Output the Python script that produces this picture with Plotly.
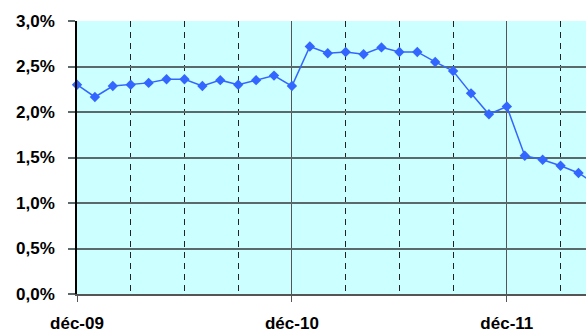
import plotly.graph_objects as go

# Monthly index from déc-09 (0) onward
month_index = list(range(30))
rates = [2.30, 2.165, 2.285, 2.30, 2.32, 2.36, 2.36, 2.285, 2.35, 2.30, 2.35, 2.40,
         2.285, 2.72, 2.645, 2.66, 2.635, 2.71, 2.66, 2.66, 2.55, 2.45, 2.205, 1.975,
         2.06, 1.52, 1.475, 1.41, 1.33, 1.20]
rates_frac = [r / 100 for r in rates]

x_tick_vals = [0, 12, 24]
x_tick_text = ["déc-09", "déc-10", "déc-11"]
y_tick_vals = [0, 0.005, 0.01, 0.015, 0.02, 0.025, 0.03]
y_tick_text = ["0,0%", "0,5%", "1,0%", "1,5%", "2,0%", "2,5%", "3,0%"]

tick_font = dict(family="Liberation Sans, Arial, sans-serif", size=17, color="#000000", weight="bold")

fig = go.Figure()
fig.add_trace(go.Scatter(
    x=month_index, y=rates_frac, mode="lines+markers",
    line=dict(color="#3366FF", width=1.5),
    marker=dict(symbol="diamond", size=8, color="#3366FF"),
    cliponaxis=False, showlegend=False,
))

fig.update_layout(
    width=586, height=331,
    margin=dict(l=77, r=0, t=21, b=37),
    paper_bgcolor="white", plot_bgcolor="#CCFFFF",
    font=tick_font,
    xaxis=dict(
        range=[0, 28.42], tickvals=x_tick_vals, ticktext=x_tick_text,
        showgrid=True, gridcolor="#555555", gridwidth=1,
        ticks="outside", ticklen=6, tickcolor="#555555",
        showline=True, linecolor="#555555", linewidth=1.5,
        zeroline=False, ticklabelstandoff=7, automargin=False,
        tickfont=tick_font,
        minor=dict(tick0=0, dtick=3, showgrid=True, gridcolor="#222222",
                   griddash="6px,5px", gridwidth=1),
    ),
    yaxis=dict(
        range=[0, 0.03], tickvals=y_tick_vals, ticktext=y_tick_text,
        showgrid=True, gridcolor="#5a6a6a", gridwidth=1.5,
        ticks="outside", ticklen=7, tickcolor="#5a6a6a", tickwidth=1.5,
        showline=True, linecolor="#000000", linewidth=1.5,
        zeroline=False, ticklabelstandoff=10, automargin=False,
        tickfont=tick_font,
    ),
)

fig.write_html("out.html", config={"displayModeBar": False},
               post_script="document.body.style.margin='0px';")
